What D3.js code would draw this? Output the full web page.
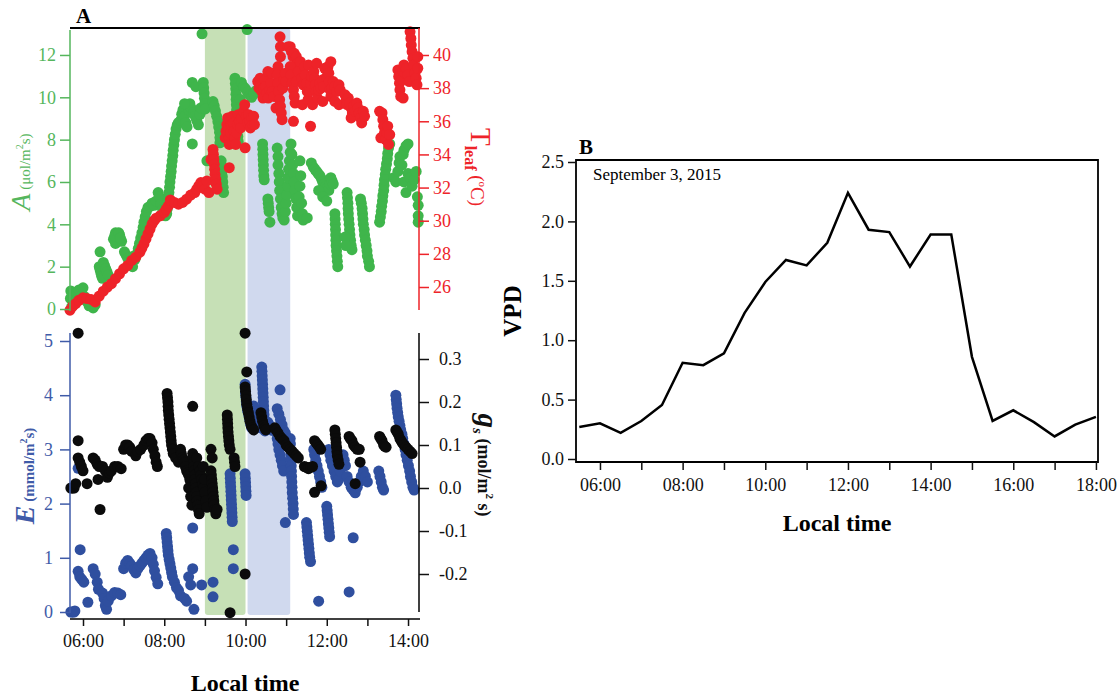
<!DOCTYPE html>
<html>
<head>
<meta charset="utf-8">
<script src="https://cdn.jsdelivr.net/npm/d3@7"></script>
<style>
  body { margin: 0; background: #fff; }
  svg { display: block; font-family: "Liberation Serif", "Times New Roman", serif; }
</style>
</head>
<body>
<svg id="chart" width="1120" height="696"></svg>
<script>
// ---- data (time in decimal hours) ----
var photoData = [ // A, umol/m2/s
  [5.7,0.85],[5.69,0.5],[5.72,0.1],[5.78,0.3],[5.85,0.75],[5.9,0.9],[6.0,1.0],[6.03,0.6],[6.15,0.15],[6.25,0.05],[6.3,0.2],[6.1,0.35],
  [6.42,2.7],[6.4,2.0],[6.42,1.85],[6.44,1.7],[6.46,1.55],[6.48,1.45],[6.5,2.2],[6.53,2.05],[6.56,1.9],[6.59,1.75],[6.62,1.6],
  [6.75,3.3],[6.8,3.6],[6.85,3.3],[6.9,3.5],[6.8,3.1],[6.95,3.2],[6.78,3.45],[6.88,3.6],[6.92,3.35],
  [7.02,2.7],[7.06,2.55],[7.1,2.4],[7.14,2.25],[7.18,2.1],[7.22,2.0],[7.25,2.5],[7.28,2.35],
  [7.33,2.6],[7.36,2.85],[7.39,3.1],[7.42,3.35],[7.45,3.6],[7.48,3.85],[7.5,4.1],[7.53,4.35],[7.56,4.6],
  [7.6,4.8],[7.65,4.85],[7.7,5.0],[7.75,4.9],
  [7.8,5.1],[7.85,5.5],[7.88,5.3],[7.92,4.95],[7.96,4.7],[8.0,4.5],[8.03,4.4],
  [8.06,4.5],[8.075,4.75],[8.09,5.0],[8.1,5.25],[8.115,5.5],[8.13,5.75],[8.14,6.0],[8.155,6.25],[8.17,6.5],
  [8.18,6.75],[8.195,7.0],[8.21,7.25],[8.22,7.5],[8.235,7.75],[8.25,8.0],[8.27,8.25],[8.29,8.5],[8.32,8.7],[8.35,8.8],
  [8.4,8.9],[8.43,9.2],[8.46,9.4],[8.5,9.1],[8.53,8.8],[8.56,8.6],[8.6,9.4],[8.63,9.7],[8.66,9.5],
  [8.72,9.3],[8.76,9.1],[8.8,8.9],[8.84,8.7],[8.88,9.2],[8.9,9.5],[8.5,9.7],
  [8.69,10.7],[8.69,7.8],[8.78,10.5],
  [8.93,13.0],[10.04,13.2],
  [8.96,10.7],[8.97,10.45],[8.98,10.2],[8.99,9.95],[9.0,9.7],[9.01,9.45],
  [9.2,9.8],[9.23,9.6],[9.26,9.35],[9.29,9.1],[9.32,8.85],[9.34,8.6],[9.36,8.35],[9.37,8.1],[9.37,7.85],
  [9.05,7.0],
  [9.4,7.0],[9.41,6.75],[9.42,6.5],[9.43,6.25],[9.44,6.0],[9.45,5.75],[9.46,5.5],
  [9.74,10.9],[9.75,10.65],[9.76,10.4],[9.765,10.15],[9.77,9.9],[9.775,9.65],[9.78,9.4],[9.785,9.15],
  [9.79,8.9],[9.8,8.65],[9.8,8.4],[9.81,8.15],[9.82,7.9],
  [9.87,9.9],[9.92,9.6],
  [9.9,10.7],[9.95,10.5],[10.0,10.4],[10.05,10.25],[10.1,10.1],[10.15,10.0],[10.2,10.15],[10.25,10.3],
  [10.42,7.8],[10.425,7.55],[10.43,7.3],[10.435,7.05],[10.44,6.8],[10.445,6.55],[10.45,6.3],[10.46,6.1],
  [10.55,5.2],[10.56,5.0],[10.57,4.8],[10.58,4.6],[10.6,4.1],
  [10.78,7.6],[10.8,7.2],[10.8,6.8],[10.82,6.4],[10.83,6.0],[10.84,5.6],[10.86,5.2],[10.88,4.8],[10.9,4.5],[10.92,4.3],
  [10.95,4.2],[10.98,4.6],[11.0,5.0],[11.02,5.4],[11.04,5.8],[11.05,6.2],[11.06,6.6],[11.08,7.0],[11.1,7.4],[11.12,7.8],
  [11.14,7.3],[11.16,6.8],[11.18,6.4],[11.2,6.0],[11.22,5.6],[11.24,5.2],[11.26,4.8],[11.28,4.4],
  [11.3,4.8],[11.32,5.3],[11.34,5.8],[11.36,6.3],[11.34,7.0],[11.38,5.0],[11.4,4.5],[11.42,4.2],[11.52,4.3],
  [11.62,6.9],[11.67,6.7],[11.71,6.6],[11.75,6.5],[11.79,6.4],[11.83,6.3],[11.87,6.15],[11.9,6.0],
  [11.94,5.9],[11.97,5.8],[12.01,5.7],[12.05,5.6],[12.08,5.9],[12.1,6.2],[12.13,6.05],[12.16,5.9],
  [11.8,5.6],[11.9,5.3],[12.0,5.1],
  [12.2,4.5],[12.205,4.25],[12.21,4.0],[12.215,3.75],[12.22,3.5],[12.225,3.25],[12.23,3.0],[12.24,2.75],
  [12.25,2.5],[12.26,2.25],[12.27,2.0],
  [12.5,5.5],[12.51,5.25],[12.52,5.0],[12.525,4.75],[12.53,4.5],[12.54,4.25],[12.55,4.0],[12.56,3.75],
  [12.57,3.5],[12.585,3.25],[12.6,3.0],[12.62,2.8],[12.45,3.4],[12.47,3.0],
  [12.83,5.2],[12.85,5.0],[12.87,4.75],[12.88,4.5],[12.89,4.25],[12.9,4.0],[12.92,3.75],[12.93,3.5],
  [12.95,3.25],[12.97,3.0],[12.99,2.75],[13.0,2.5],[13.03,2.25],[13.05,2.0],
  [13.3,4.1],[13.32,4.35],[13.34,4.6],[13.35,4.85],[13.37,5.1],[13.38,5.35],[13.4,5.6],[13.41,5.85],
  [13.42,6.1],[13.44,6.35],[13.45,6.6],[13.47,6.85],[13.49,7.1],[13.5,7.35],[13.52,7.6],[13.55,7.8],
  [13.65,6.2],[13.7,6.0],[13.75,6.5],[13.78,6.9],[13.8,7.2],[13.85,6.8],[13.88,7.3],[13.9,7.5],[13.95,7.7],
  [14.0,7.8],[13.9,6.0],[13.95,5.5],[14.0,6.4],[14.05,6.2],[14.1,5.8],[14.15,6.1],[14.2,6.5],
  [14.23,5.3],[14.25,4.9],[14.25,4.4],[14.25,4.1]
];

var tleafData = [ // leaf temperature, C
  [5.68,24.6],[5.75,24.85],[5.82,25.0],[5.9,25.2],[6.0,25.35],[6.1,25.3],[6.2,25.25],[6.3,25.1],
  [6.4,25.45],[6.5,25.75],[6.6,26.0],[6.7,26.2],[6.8,26.5],[6.9,26.8],[7.0,27.1],[7.1,27.3],
  [7.2,27.6],[7.3,27.8],[7.4,28.1],[7.45,28.35],[7.5,28.6],[7.55,28.9],[7.6,29.2],[7.65,29.5],
  [7.7,29.8],[7.75,30.0],[7.8,30.15],[7.9,30.3],[8.0,30.5],[8.05,30.7],[8.1,30.9],[8.15,31.25],
  [8.25,31.1],[8.35,31.0],[8.45,31.1],[8.55,31.3],[8.65,31.55],[8.75,31.7],[8.8,31.9],[8.85,32.1],
  [8.9,32.3],[8.95,32.1],[9.0,31.9],[9.05,32.4],[9.1,31.7],
  [9.15,33.7],[9.2,34.3],[9.21,34.0],[9.22,33.7],[9.23,33.4],[9.24,33.1],[9.25,32.8],[9.27,32.5],
  [9.28,32.2],[9.3,31.9],[9.6,33.2],
  [9.5,35.0],[9.52,35.4],[9.54,35.8],[9.56,36.2],[9.58,35.6],[9.6,35.0],[9.6,34.6],[9.63,35.3],
  [9.65,35.8],[9.67,36.3],[9.7,35.9],[9.72,35.4],[9.74,35.0],[9.76,34.6],[9.78,35.3],[9.8,35.8],
  [9.82,36.4],[9.85,36.0],[9.88,35.6],[9.9,36.2],[9.95,36.6],[9.98,37.0],[9.99,34.4],[10.02,36.3],
  [10.05,35.9],[10.08,36.4],[10.1,36.0],[10.12,35.6],[10.15,36.2],[10.18,35.8],[10.2,36.3],[10.22,35.8],
  [10.3,38.4],[10.33,38.0],[10.36,38.6],[10.38,38.2],[10.4,37.8],[10.43,37.4],[10.45,38.0],[10.48,38.5],
  [10.5,38.1],[10.53,37.7],[10.56,37.4],[10.6,37.9],[10.63,38.3],[10.66,37.8],[10.7,37.5],
  [10.55,39.0],[10.65,38.9],[10.75,36.8],
  [10.85,41.1],[10.86,40.5],[10.86,39.9],[10.8,39.3],[10.78,38.8],[10.8,38.3],[10.82,37.8],[10.84,37.3],
  [10.86,36.9],[10.88,36.5],[10.9,36.1],[10.92,38.0],[10.95,38.5],[10.98,38.9],[11.0,38.4],
  [11.05,40.5],[11.1,40.5],[11.13,40.2],[11.17,39.9],[11.2,40.1],[11.25,39.9],[11.28,39.5],[11.1,39.3],
  [11.12,38.8],[11.15,38.3],[11.18,37.9],[11.2,37.5],[11.22,37.1],[11.25,38.4],[11.18,36.0],
  [11.3,39.0],[11.35,39.6],[11.4,37.0],
  [11.38,38.6],[11.42,38.2],[11.45,39.3],[11.47,38.8],[11.5,38.3],[11.52,37.8],[11.54,37.3],[11.57,37.8],
  [11.6,38.3],[11.6,35.7],[11.63,38.7],[11.55,39.4],[11.65,37.0],
  [11.68,39.0],[11.7,38.6],[11.72,38.2],[11.74,37.8],[11.77,37.4],[11.8,37.9],[11.83,38.3],[11.86,38.0],
  [11.9,38.5],[11.93,38.1],[11.75,39.5],[11.95,39.2],[11.9,37.2],
  [12.0,38.7],[12.03,39.3],[12.05,38.9],[12.06,38.4],[12.08,37.9],[12.1,37.5],[12.13,38.0],[12.16,38.4],
  [12.2,38.1],[12.25,37.8],[12.3,38.2],[12.33,37.9],[12.1,39.6],[12.2,37.2],[12.3,37.0],
  [12.45,37.6],[12.48,37.3],[12.5,37.0],[12.53,37.4],[12.56,37.1],[12.6,36.8],[12.63,36.5],[12.6,36.2],
  [12.67,36.9],[12.7,36.6],[12.74,37.1],[12.77,36.8],[12.8,36.5],[12.83,36.2],[12.86,35.9],[12.9,36.6],[12.93,36.3],
  [13.3,36.6],[13.33,35.0],[13.36,36.5],[13.38,36.1],[13.4,35.7],[13.42,35.3],[13.45,34.9],[13.48,35.3],
  [13.5,35.7],[13.52,34.6],[13.55,35.2],
  [13.75,39.1],[13.77,38.7],[13.79,38.3],[13.8,37.9],[13.82,37.5],[13.85,38.5],[13.88,39.0],[13.9,39.4],
  [13.93,38.9],[13.96,39.2],[14.0,38.8],[14.03,38.4],[14.05,41.4],[14.07,41.0],[14.08,40.6],[14.1,40.2],
  [14.12,39.8],[14.14,39.4],[14.17,38.9],[14.2,38.6],[14.22,38.2],[14.24,39.2],[14.24,39.9],[13.88,37.4]
];

var transData = [ // E, mmol/m2/s
  [5.7,0.0],[5.74,0.0],[5.78,0.0],[5.8,0.02],[5.88,2.65],[5.93,1.15],
  [5.88,0.75],[5.92,0.65],[5.97,0.6],[6.02,0.55],[6.12,0.18],
  [6.25,0.8],[6.3,0.7],[6.35,0.55],[6.38,0.42],
  [6.48,0.35],[6.52,0.25],[6.55,0.12],[6.58,0.05],[6.62,0.2],
  [6.7,0.3],[6.78,0.36],[6.86,0.35],[6.93,0.32],
  [7.0,0.8],[7.05,0.9],[7.1,0.95],[7.15,0.9],[7.2,0.85],
  [7.25,0.78],[7.3,0.72],[7.35,0.8],[7.4,0.85],[7.45,0.9],[7.5,0.95],[7.55,1.0],[7.6,1.05],
  [7.65,1.08],[7.7,1.0],[7.73,0.88],[7.76,0.76],[7.8,0.64],[7.84,0.52],
  [8.05,1.45],[8.06,1.37],[8.07,1.29],[8.08,1.21],[8.09,1.13],[8.1,1.05],[8.12,0.97],[8.14,0.89],
  [8.16,0.81],[8.18,0.73],[8.2,0.65],
  [8.25,0.55],[8.3,0.45],[8.35,0.4],[8.4,0.3],[8.5,0.25],[8.55,0.2],
  [8.7,1.55],[8.7,0.8],[8.73,0.05],[8.6,0.65],[8.65,0.5],
  [8.92,0.5],[9.2,0.55],[9.2,0.28],
  [9.62,2.55],[9.625,2.47],[9.63,2.39],[9.635,2.31],[9.64,2.23],[9.645,2.15],[9.65,2.07],[9.655,1.99],
  [9.66,1.91],[9.665,1.83],[9.67,1.75],[9.675,1.67],
  [9.99,2.55],[9.995,2.47],[10.0,2.39],[10.005,2.31],[10.01,2.23],[10.015,2.15],[9.7,1.15],[9.7,0.8],
  [9.99,4.2],[9.995,4.12],[10.0,4.04],[10.01,3.96],[10.02,3.88],[10.03,3.8],[10.05,3.72],[10.08,3.64],
  [10.1,3.56],[10.12,3.48],[10.15,3.4],
  [10.4,4.52],[10.405,4.44],[10.41,4.36],[10.415,4.28],[10.42,4.2],[10.425,4.12],[10.43,4.04],[10.435,3.96],
  [10.44,3.88],[10.445,3.8],[10.45,3.72],[10.455,3.64],[10.46,3.56],[10.465,3.48],[10.47,3.4],[10.48,3.34],
  [10.2,3.8],[10.24,3.7],[10.28,3.6],[10.32,3.5],[10.35,3.4],[10.55,3.5],[10.58,3.45],[10.62,3.4],[10.66,3.35],
  [10.85,4.1],[10.78,3.75],[10.82,3.65],[10.86,3.55],[10.9,3.45],[10.94,3.35],[10.98,3.3],
  [10.78,3.2],[10.8,3.1],[10.82,3.0],[10.85,2.9],[10.88,2.8],[10.91,2.7],[10.94,2.6],[10.98,1.65],
  [11.1,3.2],[11.105,3.1],[11.11,3.0],[11.115,2.9],[11.12,2.8],[11.125,2.7],[11.13,2.6],[11.135,2.5],
  [11.14,2.4],[11.145,2.3],[11.15,2.2],[11.16,2.1],[11.17,2.0],[11.175,1.9],[11.18,1.8],
  [11.5,1.65],[11.51,1.57],[11.52,1.49],[11.53,1.41],[11.54,1.33],[11.55,1.25],[11.56,1.17],[11.57,1.09],
  [11.58,1.01],[11.6,0.93],[11.8,0.2],
  [11.68,3.0],[11.7,2.9],[11.73,2.8],[11.76,2.7],[11.79,2.6],[11.82,2.5],[11.85,2.4],[11.88,2.3],
  [12.0,1.95],[12.01,1.87],[12.02,1.79],[12.03,1.71],[12.04,1.63],[12.05,1.55],[12.06,1.47],[12.07,1.39],
  [12.05,3.0],[12.08,2.9],[12.1,2.8],[12.14,2.7],[12.18,2.6],[12.22,2.5],[12.26,2.4],[12.3,2.45],
  [12.33,2.6],[12.36,2.75],[12.4,2.9],[12.43,2.8],[12.46,2.7],
  [12.5,2.5],[12.55,2.4],[12.6,2.3],[12.65,2.25],[12.7,2.2],[12.75,2.3],[12.8,2.4],[12.85,2.5],
  [12.9,2.6],[12.95,2.5],[13.0,2.4],[12.55,0.37],[12.65,1.37],
  [13.28,2.6],[13.31,2.5],[13.34,2.4],[13.37,2.3],[13.4,2.25],
  [13.7,4.0],[13.71,3.92],[13.72,3.84],[13.73,3.76],[13.745,3.68],[13.76,3.6],[13.78,3.52],[13.8,3.44],
  [13.82,3.36],[13.85,3.28],[13.87,3.2],[13.9,3.1],[13.93,3.0],[13.95,2.9],[13.98,2.8],[14.01,2.7],
  [14.04,2.6],[14.06,2.5],[14.09,2.4],[14.12,2.3],[14.15,2.25]
];

var gsData = [ // stomatal conductance, mol/m2/s
  [5.88,0.36],[5.88,0.11],[5.7,0.0],[5.74,0.0],[5.78,0.0],[5.82,0.01],
  [5.88,0.07],[5.92,0.06],[5.96,0.05],[6.0,0.04],[6.1,0.01],
  [6.25,0.07],[6.3,0.065],[6.35,0.055],[6.4,0.05],[6.37,0.02],[6.42,-0.05],
  [6.48,0.05],[6.55,0.04],[6.6,0.025],[6.65,0.035],[6.7,0.04],[6.78,0.05],[6.86,0.05],[6.94,0.045],
  [7.0,0.09],[7.05,0.1],[7.1,0.1],[7.15,0.095],[7.2,0.085],
  [7.3,0.075],[7.35,0.085],[7.42,0.09],[7.5,0.1],[7.55,0.11],[7.6,0.115],[7.65,0.115],
  [7.7,0.105],[7.73,0.09],[7.77,0.075],[7.8,0.06],[7.83,0.05],
  [8.07,0.22],[8.08,0.21],[8.09,0.2],[8.095,0.19],[8.1,0.18],[8.11,0.17],[8.12,0.16],[8.13,0.15],
  [8.14,0.14],[8.15,0.13],[8.16,0.12],[8.17,0.11],[8.18,0.1],[8.2,0.09],[8.22,0.08],
  [8.28,0.07],[8.35,0.06],[8.7,0.19],
  [8.4,0.09],[8.42,0.08],[8.45,0.07],[8.48,0.065],[8.5,0.06],[8.52,0.05],[8.55,0.04],[8.58,0.035],
  [8.6,0.03],[8.63,0.02],[8.65,0.015],[8.6,0.0],[8.65,-0.02],[8.68,-0.04],
  [8.7,0.08],[8.71,0.07],[8.72,0.06],[8.73,0.05],[8.74,0.04],[8.75,0.03],[8.76,0.02],[8.77,0.01],
  [8.78,0.0],[8.79,-0.01],[8.8,-0.02],[8.81,-0.03],[8.82,-0.04],[8.84,-0.05],[8.86,-0.06],
  [8.8,0.07],[8.85,0.05],[8.88,0.04],[8.9,0.03],[8.92,0.02],[8.95,0.01],[8.97,0.0],[9.0,-0.01],
  [9.02,-0.03],[9.05,-0.045],[8.96,0.05],[9.0,0.02],
  [9.15,0.04],[9.16,0.03],[9.17,0.02],[9.18,0.01],[9.19,0.0],[9.2,-0.01],[9.21,-0.02],[9.22,-0.03],
  [9.23,-0.04],[9.25,-0.05],[9.27,-0.06],[9.3,-0.05],[9.15,0.09],[9.18,0.07],
  [9.55,0.17],[9.555,0.16],[9.56,0.15],[9.565,0.14],[9.57,0.13],[9.58,0.12],[9.59,0.11],[9.6,0.1],
  [9.62,0.09],[9.72,0.07],[9.73,0.06],[9.74,0.05],
  [9.99,0.36],[10.03,0.27],
  [9.99,0.235],[10.0,0.225],[10.01,0.215],[10.02,0.205],[10.03,0.195],[10.05,0.185],[10.07,0.175],
  [10.09,0.165],[10.11,0.155],[10.14,0.145],[10.17,0.14],[10.2,0.135],
  [9.99,-0.2],[9.62,-0.29],
  [10.38,0.175],[10.4,0.165],[10.42,0.155],[10.45,0.145],[10.48,0.14],[10.5,0.135],
  [10.72,0.14],[10.75,0.135],[10.8,0.128],[10.85,0.12],[10.9,0.115],[10.95,0.11],[11.0,0.1],[11.05,0.095],
  [11.1,0.09],[11.15,0.085],[11.2,0.08],[11.25,0.075],[11.3,0.07],
  [11.45,0.05],[11.5,0.048],[11.55,0.045],[11.6,0.048],[11.65,0.05],[11.7,-0.01],
  [11.7,0.11],[11.74,0.105],[11.78,0.1],[11.82,0.095],[11.85,0.09],[11.86,0.005],
  [12.2,0.135],[12.21,0.125],[12.22,0.115],[12.23,0.105],[12.24,0.095],[12.25,0.085],[12.26,0.075],
  [12.28,0.065],[12.3,0.055],
  [12.55,0.12],[12.58,0.115],[12.62,0.11],[12.66,0.1],[12.7,0.095],[12.75,0.09],[12.8,0.09],
  [12.7,0.01],[12.82,0.06],
  [13.3,0.12],[13.33,0.115],[13.36,0.11],[13.4,0.1],[13.43,0.097],[13.46,0.095],
  [13.7,0.135],[13.73,0.13],[13.76,0.125],[13.8,0.115],[13.83,0.11],[13.86,0.105],[13.9,0.1],
  [13.95,0.095],[14.0,0.09],[14.05,0.085],[14.1,0.08]
];

var vpdTimes = [5.5,6,6.5,7,7.5,8,8.5,9,9.5,10,10.5,11,11.5,12,12.5,13,13.5,14,14.5,15,15.5,16,16.5,17,17.5,18];
var vpdValues = [0.27,0.30,0.22,0.32,0.455,0.81,0.79,0.89,1.23,1.49,1.675,1.63,1.82,2.24,1.93,1.91,1.62,1.89,1.89,0.86,0.32,0.41,0.31,0.19,0.29,0.355];

var bands = [[9.0, 10.0, "#c6e0b6"], [10.05, 11.1, "#d0d9ee"]];
var ticksA = [0,2,4,6,8,10,12];
var ticksT = [26,28,30,32,34,36,38,40];
var ticksE = [0,1,2,3,4,5];
var ticksGs = [-0.2,-0.1,0,0.1,0.2,0.3];
var hoursA = [6,7,8,9,10,11,12,13,14];
var hoursB = [6,7,8,9,10,11,12,13,14,15,16,17,18];
var ticksVpd = [0,0.5,1,1.5,2,2.5];

// ---- colours ----
var cGreen = "#3fb54b", cGreenAx = "#55b65c", cRed = "#ee2329", cBlue = "#2f4f9f", cBlueAx = "#3f5ba8";

var svg = d3.select("#chart");

function hhmm(h) { return (h < 10 ? "0" : "") + h + ":00"; }
function fixed1(v) { return v.toFixed(1); }
function whole(v) { return String(v); }

// ---- panel A scales ----
var xA = d3.scaleLinear().domain([5.68, 14.27]).range([70, 419]);
var yA = d3.scaleLinear().domain([0, 13]).range([309, 33.8]);
var yT = d3.scaleLinear().domain([26, 40]).range([287, 55]);
var yE = d3.scaleLinear().domain([0, 5]).range([612, 341]);
var yG = d3.scaleLinear().domain([0, 0.3]).range([488, 359]);

// shaded windows
svg.append("g").selectAll("rect").data(bands).join("rect")
  .attr("x", function(d) { return xA(d[0]); })
  .attr("width", function(d) { return xA(d[1]) - xA(d[0]); })
  .attr("y", 28).attr("height", 587).attr("rx", 3)
  .attr("fill", function(d) { return d[2]; });

function dots(data, x, y, col) {
  svg.append("g").selectAll("circle").data(data).join("circle")
    .attr("cx", function(d) { return x(d[0]); })
    .attr("cy", function(d) { return y(d[1]); })
    .attr("r", 5.5).attr("fill", col);
}
dots(photoData, xA, yA, cGreen);
dots(tleafData, xA, yT, cRed);
dots(transData, xA, yE, cBlue);
dots(gsData, xA, yG, "#0b0b0b");

function styleAxis(g, col, size) {
  g.select(".domain").remove();
  g.selectAll("line").attr("stroke", col).attr("stroke-width", 1.5);
  g.selectAll("text").attr("fill", col).style("font-size", size + "px")
    .style("font-family", '"Liberation Serif", "Times New Roman", serif');
}

// top panel axes
svg.append("line").attr("x1", 70).attr("x2", 420).attr("y1", 28).attr("y2", 28).attr("stroke", "#000").attr("stroke-width", 2);
svg.append("line").attr("x1", 70).attr("x2", 70).attr("y1", 30).attr("y2", 311).attr("stroke", cGreenAx).attr("stroke-width", 1.5);
svg.append("g").attr("transform", "translate(70,0)")
  .call(d3.axisLeft(yA).tickValues(ticksA).tickSize(10).tickPadding(4).tickFormat(whole))
  .call(styleAxis, cGreenAx, 18);
svg.append("line").attr("x1", 419).attr("x2", 419).attr("y1", 28).attr("y2", 310).attr("stroke", cRed).attr("stroke-width", 1.5);
svg.append("g").attr("transform", "translate(419,0)")
  .call(d3.axisRight(yT).tickValues(ticksT).tickSize(10).tickPadding(4).tickFormat(whole))
  .call(styleAxis, cRed, 18);

// bottom panel axes
svg.append("line").attr("x1", 70).attr("x2", 70).attr("y1", 333).attr("y2", 613).attr("stroke", cBlueAx).attr("stroke-width", 1.5);
svg.append("g").attr("transform", "translate(70,0)")
  .call(d3.axisLeft(yE).tickValues(ticksE).tickSize(10).tickPadding(7).tickFormat(whole))
  .call(styleAxis, cBlueAx, 18);
svg.append("line").attr("x1", 419).attr("x2", 419).attr("y1", 333).attr("y2", 612).attr("stroke", "#000").attr("stroke-width", 1.5);
svg.append("g").attr("transform", "translate(419,0)")
  .call(d3.axisRight(yG).tickValues(ticksGs).tickSize(10).tickPadding(10).tickFormat(fixed1))
  .call(styleAxis, "#111", 18);
svg.append("line").attr("x1", 70).attr("x2", 420).attr("y1", 619).attr("y2", 619).attr("stroke", "#000").attr("stroke-width", 1.5);
svg.append("g").attr("transform", "translate(0,619)")
  .call(d3.axisBottom(xA).tickValues(hoursA).tickSize(7).tickPadding(8)
    .tickFormat(function(h) { return h % 2 === 0 ? hhmm(h) : ""; }))
  .call(styleAxis, "#111", 18);

// panel A titles
svg.append("text").attr("x", 76).attr("y", 23).attr("font-weight", "bold").attr("font-size", 21).text("A");
svg.append("text").attr("x", 245).attr("y", 691).attr("text-anchor", "middle")
  .attr("font-weight", "bold").attr("font-size", 24).text("Local time");

var tA = svg.append("text").attr("transform", "translate(30,172) rotate(-90)")
  .attr("text-anchor", "middle").attr("fill", cGreenAx);
tA.append("tspan").attr("font-style", "italic").attr("font-size", 28).text("A");
tA.append("tspan").attr("font-size", 15).text(" (\u03bcol/m");
tA.append("tspan").attr("font-size", 10).attr("dy", -7).text("2");
tA.append("tspan").attr("font-size", 15).attr("dy", 7).text("s)");

var tT = svg.append("text").attr("transform", "translate(471,167) rotate(90)")
  .attr("text-anchor", "middle").attr("fill", cRed);
tT.append("tspan").attr("font-size", 29).text("T");
tT.append("tspan").attr("font-size", 16).attr("font-weight", "bold").attr("dy", 6).text("leaf");
tT.append("tspan").attr("font-size", 19).attr("dy", -6).text(" (");
tT.append("tspan").attr("font-size", 11).attr("dy", -8).text("o");
tT.append("tspan").attr("font-size", 19).attr("dy", 8).text("C)");

var tE = svg.append("text").attr("transform", "translate(34,476) rotate(-90)")
  .attr("text-anchor", "middle").attr("fill", cBlueAx).attr("font-weight", "bold");
tE.append("tspan").attr("font-style", "italic").attr("font-size", 28).text("E");
tE.append("tspan").attr("font-size", 15).text(" (mmol/m");
tE.append("tspan").attr("font-size", 10).attr("dy", -7).text("2");
tE.append("tspan").attr("font-size", 15).attr("dy", 7).text("s)");

var tG = svg.append("text").attr("transform", "translate(478,465) rotate(90)")
  .attr("text-anchor", "middle").attr("fill", "#111").attr("font-weight", "bold");
tG.append("tspan").attr("font-style", "italic").attr("font-size", 29).text("g");
tG.append("tspan").attr("font-style", "italic").attr("font-size", 15).attr("dy", 5).text("s");
tG.append("tspan").attr("font-size", 18).attr("dy", -5).text(" (mol/m");
tG.append("tspan").attr("font-size", 11).attr("dy", -8).text("2");
tG.append("tspan").attr("font-size", 18).attr("dy", 8).text(" s)");

// ---- panel B ----
var xB = d3.scaleLinear().domain([5.42, 18.05]).range([576, 1098]);
var yV = d3.scaleLinear().domain([0, 2.5]).range([459, 162]);
var vpd = vpdTimes.map(function(t, i) { return {t: t, v: vpdValues[i]}; });

svg.append("path").datum(vpd)
  .attr("fill", "none").attr("stroke", "#000").attr("stroke-width", 2.5).attr("stroke-linejoin", "miter")
  .attr("d", d3.line().x(function(d) { return xB(d.t); }).y(function(d) { return yV(d.v); }));

svg.append("path").attr("fill", "none").attr("stroke", "#000").attr("stroke-width", 1.8)
  .attr("d", "M576,160H1098V462H576Z");
svg.append("g").attr("transform", "translate(576,0)")
  .call(d3.axisLeft(yV).tickValues(ticksVpd).tickSize(8).tickPadding(4).tickFormat(fixed1))
  .call(styleAxis, "#111", 18);
svg.append("g").attr("transform", "translate(0,462)")
  .call(d3.axisBottom(xB).tickValues(hoursB).tickSize(8).tickPadding(8)
    .tickFormat(function(h) { return h % 2 === 0 ? hhmm(h) : ""; }))
  .call(styleAxis, "#111", 18);

svg.append("text").attr("x", 579).attr("y", 154).attr("font-weight", "bold").attr("font-size", 21).text("B");
svg.append("text").attr("x", 593).attr("y", 180).attr("font-size", 17).text("September 3, 2015");
svg.append("text").attr("x", 837).attr("y", 531).attr("text-anchor", "middle")
  .attr("font-weight", "bold").attr("font-size", 24).text("Local time");
svg.append("text").attr("transform", "translate(521,311) rotate(-90)").attr("text-anchor", "middle")
  .attr("font-weight", "bold").attr("font-size", 25).text("VPD");
</script>
</body>
</html>
